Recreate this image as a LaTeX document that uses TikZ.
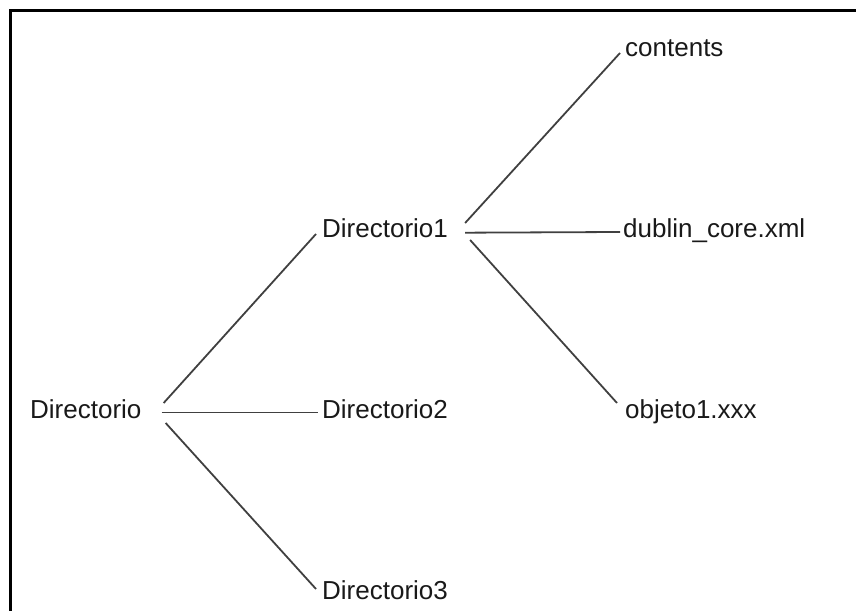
\documentclass[tikz,border=0pt]{standalone}
\usepackage{fontspec}
\setmainfont{Liberation Sans}
\begin{document}
\begin{tikzpicture}[x=1pt,y=1pt,
  lbl/.style={anchor=base west,inner sep=0pt,font=\fontsize{26}{30}\selectfont,text=black!90},
  conn/.style={draw=black!75,line width=1.8pt}]
\useasboundingbox (0,0) rectangle (856,610);
\begin{scope}
\clip (0,0) rectangle (856,610);
\draw[line width=3pt] (10.5,-20) -- (10.5,599) -- (880,599);
\end{scope}
\node[lbl] (root) at (30,191.5) {Directorio};
\node[lbl] (d1) at (322,372) {Directorio1};
\node[lbl] (d2) at (322,191) {Directorio2};
\node[lbl] (d3) at (322,10) {Directorio3};
\node[lbl] (c) at (625,553) {contents};
\node[lbl] (dc) at (623,372) {dublin\_core.xml};
\node[lbl] (ob) at (625,191) {objeto1.xxx};
\draw[conn] ([shift={(22,15.5)}]root.base east) -- ([shift={(-6,4)}]d1.base west);
\draw[conn] ([shift={(20,6)}]root.base east) -- ([shift={(-4,6.5)}]d2.base west);
\draw[conn] ([shift={(24,-4.5)}]root.base east) -- ([shift={(-6,11)}]d3.base west);
\draw[conn] ([shift={(17,15)}]d1.base east) -- ([shift={(-5,4)}]c.base west);
\draw[conn] ([shift={(17,5.3)}]d1.base east) -- ([shift={(-3,6)}]dc.base west);
\draw[conn] ([shift={(22,-2)}]d1.base east) -- ([shift={(-8,16)}]ob.base west);
\end{tikzpicture}
\end{document}
